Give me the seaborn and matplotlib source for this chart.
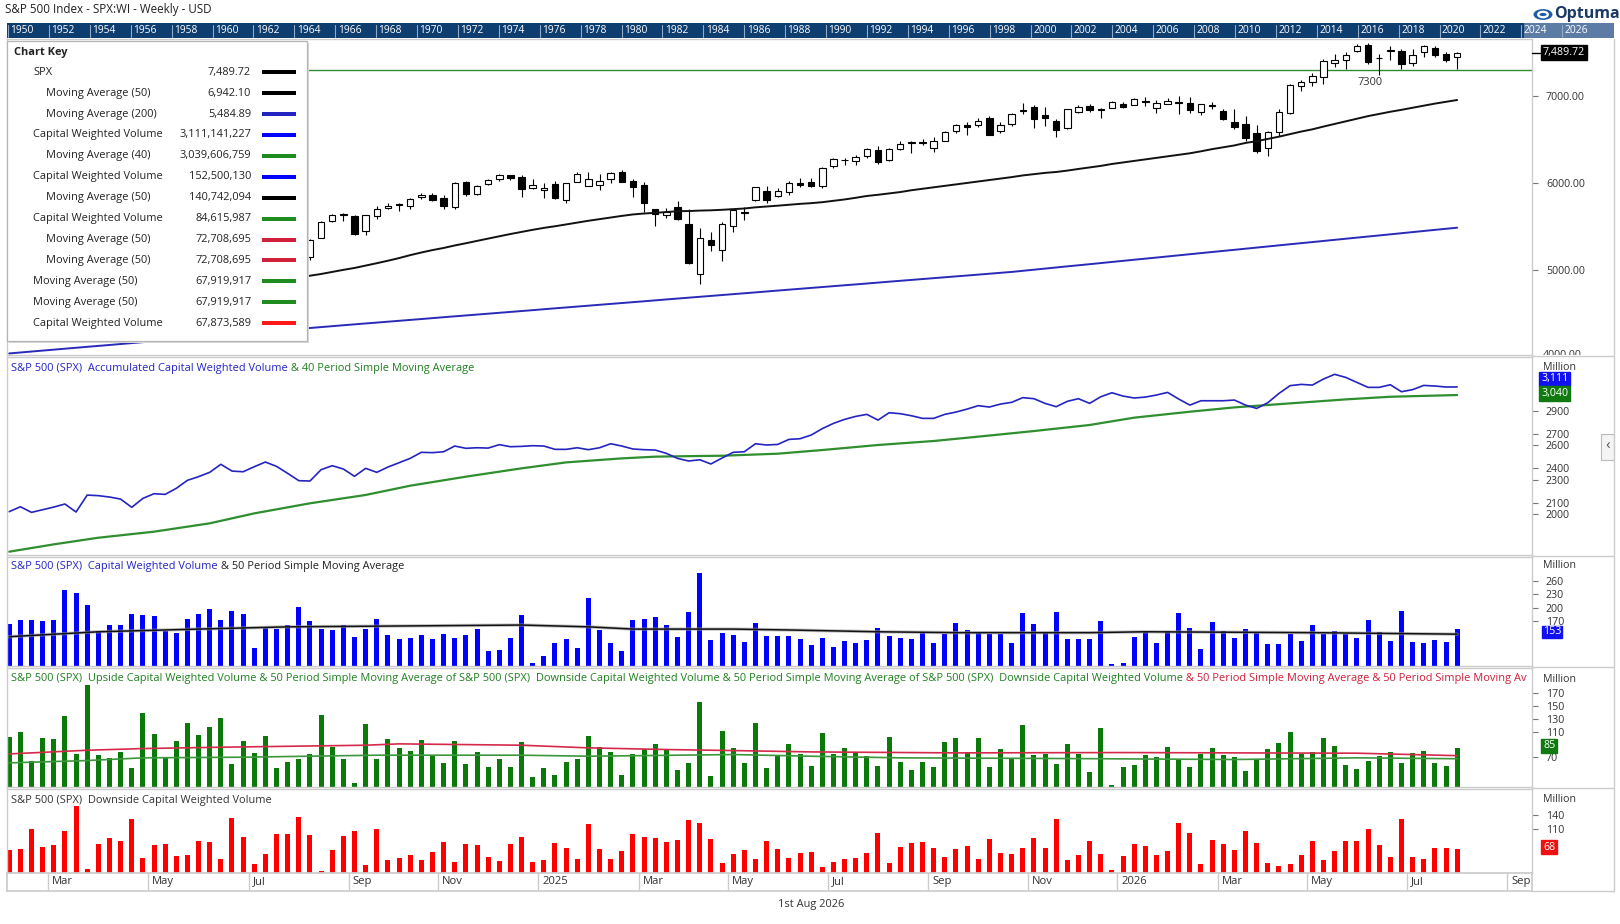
import numpy as np
import pandas as pd
import matplotlib
matplotlib.use("Agg")
import matplotlib.pyplot as plt
import matplotlib.transforms as mtransforms
from matplotlib.patches import Rectangle, Circle
from matplotlib.text import Annotation
import seaborn as sns

# ---------------- DATA ----------------
start_date = "2024-02-02"
n_weeks = 131

price_open = [4892, 4957, 5026, 5003, 5094, 5132, 5111, 5123, 5219, 5257,
              5217, 5149, 4987, 5114, 5142, 5233, 5305, 5315, 5297, 5341,
              5432, 5459, 5471, 5572, 5615, 5545, 5476, 5151, 5364, 5557,
              5636, 5623, 5442, 5615, 5711, 5757, 5737, 5832, 5857, 5823,
              5724, 6007, 5874, 5992, 6040, 6090, 6063, 5942, 5920, 5982,
              5804, 6014, 5969, 5970, 6046, 6121, 6026, 5981, 5705, 5635,
              5718, 5527, 4953, 5343, 5232, 5508, 5655, 5807, 5902, 5854,
              5897, 6004, 6005, 5969, 6193, 6259, 6256, 6304, 6374, 6260,
              6389, 6459, 6457, 6401, 6485, 6590, 6662, 6661, 6740, 6600,
              6676, 6820, 6870, 6780, 6705, 6629, 6813, 6878, 6845, 6860,
              6905, 6897, 6940, 6859, 6908, 6930, 6916, 6813, 6895, 6828,
              6698, 6675, 6571, 6400, 6583, 6801, 7108, 7157, 7221, 7376,
              7414, 7517, 7579, 7430, 7515, 7510, 7379, 7502, 7548, 7483, 7445]
price_high = [4975, 5030, 5048, 5111, 5140, 5189, 5180, 5261, 5264, 5263,
              5220, 5149, 5114, 5139, 5239, 5325, 5341, 5315, 5375, 5447,
              5505, 5524, 5570, 5655, 5670, 5566, 5566, 5358, 5563, 5643,
              5651, 5636, 5636, 5733, 5767, 5767, 5822, 5879, 5878, 5862,
              6012, 6018, 5972, 6044, 6099, 6090, 6085, 6049, 5993, 6021,
              5998, 6128, 6120, 6101, 6127, 6147, 6044, 6009, 5705, 5715,
              5786, 5695, 5481, 5430, 5551, 5700, 5721, 5958, 5968, 5944,
              6016, 6059, 6050, 6187, 6284, 6290, 6315, 6395, 6427, 6395,
              6481, 6478, 6508, 6532, 6600, 6672, 6700, 6750, 6765, 6700,
              6800, 6920, 6890, 6866, 6730, 6850, 6895, 6900, 6855, 6935,
              6925, 6975, 6990, 6954, 6980, 6992, 6990, 6910, 6925, 6850,
              6845, 6770, 6667, 6600, 6850, 7140, 7184, 7265, 7425, 7475,
              7500, 7600, 7610, 7480, 7567, 7540, 7540, 7580, 7575, 7500, 7500]
price_low = [4845, 4918, 4920, 4946, 5056, 5057, 5094, 5117, 5203, 5146,
             5107, 4954, 4987, 5011, 5142, 5211, 5257, 5191, 5234, 5324,
             5432, 5433, 5448, 5546, 5497, 5390, 5302, 5119, 5364, 5555,
             5560, 5402, 5406, 5585, 5703, 5674, 5696, 5815, 5793, 5703,
             5696, 5853, 5856, 5977, 6024, 6032, 5832, 5932, 5829, 5809,
             5773, 6014, 5962, 5923, 6003, 6008, 5837, 5666, 5505, 5597,
             5572, 5069, 4835, 5220, 5102, 5434, 5578, 5786, 5768, 5843,
             5861, 5952, 5952, 5943, 6174, 6202, 6201, 6281, 6212, 6249,
             6373, 6343, 6432, 6360, 6483, 6569, 6550, 6640, 6550, 6570,
             6650, 6790, 6630, 6648, 6522, 6620, 6800, 6810, 6740, 6855,
             6855, 6890, 6880, 6800, 6900, 6790, 6800, 6780, 6850, 6720,
             6620, 6480, 6345, 6314, 6540, 6790, 7050, 7110, 7140, 7330,
             7310, 7500, 7360, 7240, 7414, 7310, 7345, 7450, 7440, 7390, 7310]
price_close = [4959, 5027, 5006, 5089, 5137, 5124, 5117, 5234, 5254, 5204,
               5123, 4967, 5100, 5128, 5223, 5303, 5305, 5278, 5347, 5432,
               5465, 5460, 5567, 5615, 5505, 5459, 5346, 5344, 5554, 5634,
               5648, 5408, 5626, 5703, 5738, 5751, 5815, 5865, 5808, 5729,
               5996, 5871, 5969, 6032, 6090, 6051, 5931, 5971, 5942, 5827,
               5997, 6101, 6040, 6025, 6114, 6013, 5954, 5770, 5639, 5667,
               5581, 5074, 5363, 5283, 5525, 5686, 5660, 5958, 5802, 5912,
               6000, 5977, 5967, 6173, 6279, 6260, 6297, 6389, 6238, 6389,
               6450, 6467, 6460, 6482, 6584, 6664, 6644, 6716, 6553, 6664,
               6791, 6840, 6728, 6740, 6603, 6847, 6870, 6832, 6838, 6930,
               6870, 6965, 6934, 6916, 6943, 6920, 6840, 6905, 6885, 6736,
               6637, 6514, 6368, 6583, 6813, 7126, 7157, 7230, 7402, 7414,
               7471, 7575, 7387, 7436, 7520, 7364, 7471, 7567, 7464, 7414, 7489.72]
# weekly closes before the first visible bar (for the 50-week average)
prior_closes = [4090, 4079, 3970, 4045, 3861, 3916, 3971, 4109, 4105, 4137,
                4133, 4169, 4136, 4124, 4191, 4205, 4282, 4299, 4410, 4348,
                4450, 4399, 4505, 4536, 4582, 4478, 4464, 4370, 4406, 4516,
                4457, 4450, 4320, 4288, 4309, 4327, 4224, 4117, 4358, 4415,
                4514, 4559, 4595, 4604, 4719, 4755, 4770, 4697, 4784, 4840, 4891]
ma200_values = [4041, 4052, 4063, 4073, 4084, 4095, 4106, 4117, 4127, 4138,
                4149, 4160, 4171, 4181, 4192, 4203, 4214, 4225, 4235, 4246,
                4257, 4268, 4279, 4289, 4300, 4311, 4322, 4333, 4343, 4354,
                4365, 4375, 4385, 4396, 4406, 4416, 4426, 4436, 4447, 4457,
                4467, 4477, 4487, 4498, 4508, 4518, 4528, 4538, 4549, 4559,
                4569, 4579, 4589, 4600, 4610, 4620, 4630, 4640, 4651, 4661,
                4671, 4681, 4691, 4702, 4712, 4722, 4732, 4742, 4753, 4763,
                4773, 4783, 4793, 4804, 4814, 4824, 4834, 4844, 4855, 4865,
                4875, 4885, 4895, 4906, 4916, 4926, 4936, 4946, 4957, 4967,
                4977, 4990, 5002, 5015, 5028, 5041, 5053, 5066, 5079, 5091,
                5104, 5117, 5129, 5142, 5155, 5168, 5180, 5193, 5206, 5218,
                5231, 5244, 5256, 5269, 5282, 5295, 5307, 5320, 5333, 5345,
                5358, 5371, 5383, 5396, 5409, 5422, 5434, 5447, 5460, 5472, 5485]
level_line = 7300

accum_values = [2020, 2063, 2014, 2037, 2060, 2087, 2017, 2165, 2160, 2148,
                2130, 2058, 2136, 2177, 2171, 2224, 2294, 2326, 2364, 2434,
                2375, 2369, 2413, 2454, 2416, 2355, 2291, 2288, 2387, 2422,
                2393, 2329, 2399, 2364, 2410, 2448, 2486, 2539, 2536, 2544,
                2594, 2574, 2579, 2576, 2606, 2588, 2591, 2597, 2594, 2565,
                2565, 2579, 2562, 2579, 2614, 2594, 2568, 2562, 2559, 2530,
                2486, 2463, 2474, 2437, 2489, 2539, 2544, 2614, 2603, 2608,
                2652, 2658, 2690, 2746, 2792, 2827, 2853, 2871, 2821, 2885,
                2877, 2859, 2836, 2836, 2871, 2891, 2917, 2947, 2935, 2961,
                2976, 3017, 3008, 2967, 2938, 2985, 3008, 2967, 3025, 3060,
                3031, 3014, 3022, 3040, 3063, 3005, 2952, 2990, 2990, 2990,
                2996, 2952, 2923, 2973, 3054, 3122, 3133, 3127, 3180, 3221,
                3194, 3151, 3107, 3107, 3130, 3069, 3087, 3124, 3119, 3110, 3111]
ma40_week = [0, 4, 8, 13, 18, 22, 27, 32, 36, 41, 46, 50, 55, 58, 62, 64, 69, 73,
             78, 83, 87, 92, 97, 101, 106, 110, 115, 120, 124, 130]
ma40_val = [1670, 1734, 1792, 1845, 1918, 2005, 2093, 2166, 2247, 2326, 2399, 2451,
            2486, 2501, 2507, 2509, 2527, 2559, 2603, 2638, 2676, 2725, 2778, 2842,
            2894, 2932, 2967, 3002, 3025, 3040]

volume = [163, 172, 172, 170, 172, 239, 232, 206, 147, 160,
          161, 186, 183, 181, 148, 143, 174, 186, 197, 172,
          192, 186, 109, 155, 152, 161, 202, 170, 152, 150,
          161, 134, 152, 174, 139, 130, 132, 139, 130, 141,
          132, 139, 152, 103, 105, 132, 183, 77, 92, 121,
          130, 110, 221, 150, 121, 103, 172, 174, 179, 161,
          134, 190, 276, 128, 143, 139, 124, 166, 137, 137,
          137, 130, 116, 132, 112, 125, 122, 128, 155, 137,
          133, 130, 143, 122, 141, 166, 150, 143, 141, 141,
          122, 188, 163, 143, 190, 130, 130, 130, 170, 74,
          76, 135, 145, 122, 148, 188, 154, 108, 168, 148,
          132, 152, 143, 119, 119, 141, 125, 161, 141, 148,
          141, 132, 172, 145, 126, 192, 123, 121, 128, 123, 152.5]
vol_ma_week = [0, 8, 17, 25, 46, 52, 56, 65, 70, 78, 85, 97, 102, 117, 130]
vol_ma_val = [135, 146, 152, 157, 161, 157, 152, 152, 150, 146, 144, 144, 146, 144, 140.7]

upside = [101.8, 109.5, 64, 100, 98.7, 134.4, 75.4, 181.9, 73.4, 69.3,
          78.5, 53.7, 139, 106.4, 70.3, 95.6, 123.5, 104.9, 117.3, 131.3,
          60, 95.6, 77, 103.3, 53.7, 63, 67.7, 75.4, 135.9, 86.3,
          67.7, 30.5, 122, 67.7, 98.7, 84.8, 80.1, 97.2, 72.3, 61.5,
          95.6, 60, 78.5, 55.3, 67.7, 55.3, 94, 39.8, 53.7, 42.9,
          63, 67.7, 103.3, 86.3, 78.5, 42.9, 75.4, 83.2, 91, 81.6,
          50.6, 61.5, 156, 41.3, 111.1, 84.8, 61.5, 123.5, 53.7, 72.9,
          90.9, 75.4, 56.8, 108, 75.4, 84.8, 77, 71.8, 56.8, 101.8,
          63, 50.6, 63, 55.3, 94, 100.3, 78.5, 100.3, 55.3, 83.2,
          67.7, 120.4, 73.9, 75.4, 60, 91, 75.4, 47.5, 115.7, 26.9,
          55.3, 58.4, 73.9, 70.8, 86.3, 66.1, 55.3, 75.4, 84.8, 73.9,
          70.8, 49.1, 67.7, 83.2, 92.5, 109.5, 75.4, 78.5, 100.3, 87.8,
          58.4, 52.2, 64.6, 72.3, 78.5, 61.5, 77, 80.1, 61.5, 56.8, 84.6]
up_ma_red_week = [0, 7, 12, 19, 32, 35, 46, 52, 59, 65, 72, 85, 100, 110, 121, 130]
up_ma_red_val = [75.4, 81.1, 83.7, 85.8, 88.9, 91, 88.9, 84.8, 82.2, 80.6, 78.5, 77, 77.5, 77, 76.5, 72.7]
up_ma_green_week = [0, 7, 12, 21, 33, 46, 52, 65, 72, 80, 95, 110, 121, 130]
up_ma_green_val = [61.5, 65.1, 69.3, 70.3, 73.4, 73.4, 71.8, 74.4, 71.8, 69.3, 68.2, 66.7, 69.3, 67.9]

downside = [65, 67.1, 110, 71.4, 75.7, 105.7, 159.2, 24.3, 77.8, 90.7,
            84.2, 131.4, 47.8, 75.7, 77.8, 52.1, 54.3, 84.2, 82.1, 45.7,
            133.5, 92.8, 35, 56.4, 99.2, 99.2, 135.7, 97.1, 20, 65,
            95, 105.7, 32.8, 110, 43.6, 47.8, 54.3, 43.6, 60.7, 82.1,
            39.3, 77.8, 75.7, 50, 41.4, 77.8, 92.8, 39.3, 43.6, 80,
            69.3, 45.7, 120.7, 67.1, 45.7, 62.8, 99.2, 92.8, 90.7, 82.1,
            86.4, 129.2, 122.8, 88.5, 37.1, 56.4, 65, 45.7, 84.2, 67.1,
            47.8, 58.5, 60.7, 28.6, 39.3, 45.7, 47.8, 58.5, 101.4, 37.1,
            71.4, 80, 82.1, 69.3, 50, 67.1, 73.5, 45.7, 88.5, 58.5,
            56.4, 69.3, 90.7, 69.3, 131.4, 43.6, 54.3, 84.2, 56.4, 22.1,
            52.1, 77.8, 73.5, 54.3, 62.8, 122.8, 101.4, 35, 86.4, 77.8,
            65, 105.7, 80, 37.1, 30.7, 35, 54.3, 84.2, 43.6, 62.8,
            84.2, 84.2, 110, 75.7, 50, 131.4, 50, 45.7, 69.3, 69.3, 67.9]

legend_names = ["SPX", "Moving Average (50)", "Moving Average (200)", "Capital Weighted Volume",
                "Moving Average (40)", "Capital Weighted Volume", "Moving Average (50)",
                "Capital Weighted Volume", "Moving Average (50)", "Moving Average (50)",
                "Moving Average (50)", "Moving Average (50)", "Capital Weighted Volume"]
legend_values = ["7,489.72", "6,942.10", "5,484.89", "3,111,141,227", "3,039,606,759",
                 "152,500,130", "140,742,094", "84,615,987", "72,708,695", "72,708,695",
                 "67,919,917", "67,919,917", "67,873,589"]
legend_indent = [0, 1, 1, 0, 1, 0, 1, 0, 1, 1, 0, 0, 0]
legend_colors = ["#000000", "#000000", "#2323c0", "#0000ff", "#1e8c1e", "#0000ff", "#000000",
                 "#1e8c1e", "#d0203a", "#d0203a", "#1e8c1e", "#1e8c1e", "#ff1a1a"]

strip_years = list(range(1950, 2027, 2))

# ---------------- STYLE ----------------
sns.set_theme(style="white")
plt.rcParams['font.family'] = ['Open Sans', 'DejaVu Sans']

W, H = 1620, 924
fig = plt.figure(figsize=(W / 100, H / 100), dpi=100)
FS = 7.95
TXT = "#333333"
GRID = "#cccccc"

idx = np.arange(n_weeks)
XMIN, XMAX = -0.2, 136.72


def px_ax(left, top, right, bottom):
    return fig.add_axes([left / W, 1 - bottom / H, (right - left) / W, (bottom - top) / H])


def ftxt(x, y, s, **kw):
    kw.setdefault("fontsize", FS)
    kw.setdefault("color", TXT)
    kw.setdefault("va", "center")
    return fig.text(x / W, 1 - y / H, s, **kw)


def style_ax(ax, ylim, ticks=None, fmt=None):
    ax.set_xlim(XMIN, XMAX)
    ax.set_ylim(*ylim)
    ax.set_xticks([])
    ax.set_xlabel("")
    ax.set_ylabel("")
    for sp in ax.spines.values():
        sp.set_color(GRID)
        sp.set_linewidth(1.0)
    ax.yaxis.tick_right()
    if ticks is not None:
        ax.set_yticks(ticks)
        ax.set_yticklabels([fmt(t) for t in ticks])
    else:
        ax.set_yticks([])
    ax.tick_params(axis="y", which="both", direction="out", length=4, width=0.8,
                   colors="#777777", labelcolor=TXT, labelsize=FS - 0.3, pad=6, right=True, left=False)
    ax.set_facecolor("white")


def value_box(x, y, s, fc, pad=0.16):
    ftxt(x, y, s, color="white", ha="left", fontsize=FS - 0.3,
         bbox=dict(boxstyle=f"square,pad={pad}", fc=fc, ec=fc))


def segmented_title(x, y, segments, clip_ax=None):
    prev = None
    for s, c in segments:
        if prev is None:
            t = ftxt(x, y, s, color=c, ha="left", va="center")
        else:
            t = Annotation(s, xy=(1, 0), xycoords=prev, ha="left", va="bottom",
                           fontsize=FS, color=c)
            fig.add_artist(t)
        if clip_ax is not None:
            t.set_clip_box(clip_ax.bbox)
            t.set_clip_on(True)
        prev = t


# ---------------- PRICE PANEL ----------------
ax_p = px_ax(7, 39, 1532, 355)
o = np.array(price_open, float)
h = np.array(price_high, float)
l = np.array(price_low, float)
c = np.array(price_close, float)
ax_p.vlines(idx, l, h, color="black", linewidth=0.8, zorder=2)
body_bottom = np.minimum(o, c)
body_h = np.maximum(np.abs(c - o), 8)
up = c >= o
ax_p.bar(idx[up], body_h[up], bottom=body_bottom[up], width=0.58, color="white",
         edgecolor="black", linewidth=0.8, zorder=3)
ax_p.bar(idx[~up], body_h[~up], bottom=body_bottom[~up], width=0.58, color="black",
         edgecolor="black", linewidth=0.8, zorder=3)

all_close = pd.Series(prior_closes + price_close)
ma50 = all_close.rolling(50).mean().iloc[len(prior_closes):].to_numpy()
sns.lineplot(x=idx, y=ma50, ax=ax_p, color="#111111", linewidth=1.4, zorder=4)
sns.lineplot(x=idx, y=ma200_values, ax=ax_p, color="#2a2ab8", linewidth=1.4, zorder=4)
ax_p.axhline(level_line, color="#2e8b2e", linewidth=1.0, zorder=1)
ax_p.text(122.2, 7154, "7300", fontsize=FS, color=TXT, ha="center", va="center")
style_ax(ax_p, (4023, 7652), [5000, 6000, 7000], lambda t: f"{t:.2f}")

# ---------------- ACCUMULATED PANEL ----------------
ax_a = px_ax(7, 356.5, 1532, 555)
sns.lineplot(x=ma40_week, y=ma40_val, ax=ax_a, color="#2f8f2f", linewidth=1.6)
sns.lineplot(x=idx, y=accum_values, ax=ax_a, color="#2424c0", linewidth=1.2)
style_ax(ax_a, (1641, 3377), [2000, 2100, 2300, 2400, 2600, 2700, 2900], lambda t: f"{t}")

# ---------------- VOLUME PANEL ----------------
ax_v = px_ax(7, 557, 1532, 665.5)
sns.barplot(x=idx, y=volume, native_scale=True, color="#0000ff", saturation=1,
            width=0.45, linewidth=0, errorbar=None, ax=ax_v)
sns.lineplot(x=vol_ma_week, y=vol_ma_val, ax=ax_v, color="#999999", linewidth=2.4, alpha=0.6)
sns.lineplot(x=vol_ma_week, y=vol_ma_val, ax=ax_v, color="#111111", linewidth=1.1)
style_ax(ax_v, (70.8, 312.7), [170, 200, 230, 260], lambda t: f"{t}")

# ---------------- UPSIDE PANEL ----------------
ax_u = px_ax(7, 668, 1532, 786.5)
sns.barplot(x=idx, y=upside, native_scale=True, color="#0b7a0b", saturation=1,
            width=0.45, linewidth=0, errorbar=None, ax=ax_u)
sns.lineplot(x=up_ma_red_week, y=up_ma_red_val, ax=ax_u, color="#d42a4a", linewidth=1.2)
sns.lineplot(x=up_ma_green_week, y=up_ma_green_val, ax=ax_u, color="#3c963c", linewidth=1.2)
style_ax(ax_u, (24.8, 208.8), [70, 110, 130, 150, 170], lambda t: f"{t}")

# ---------------- DOWNSIDE PANEL ----------------
ax_d = px_ax(7, 789, 1532, 872.5)
sns.barplot(x=idx, y=downside, native_scale=True, color="#ff0000", saturation=1,
            width=0.45, linewidth=0, errorbar=None, ax=ax_d)
style_ax(ax_d, (17.2, 194.6), [110, 140], lambda t: f"{t}")

# ---------------- DATE AXIS ----------------
ax_x = px_ax(7, 872.5, 1532, 891)
ax_x.set_xlim(XMIN, XMAX)
ax_x.set_ylim(0, 1)
ax_x.set_xticks([])
ax_x.set_yticks([])
for sp in ax_x.spines.values():
    sp.set_color(GRID)
d0 = pd.Timestamp(start_date)
months = pd.date_range("2024-03-01", "2026-09-01", freq="2MS")
for m in months:
    pos = np.ceil((m - d0).days / 7) - 0.5
    lab = str(m.year) if m.month == 1 else m.strftime("%b")
    ax_x.vlines(pos, 0, 1, color=GRID, linewidth=1.0)
    ax_x.text(pos + 0.35, 0.5, lab, fontsize=FS + 0.2, color=TXT, ha="left", va="center")
ftxt(811, 904, "1st Aug 2026", ha="center")

# ---------------- RIGHT AXIS EXTRAS ----------------
for y in (368, 566, 679, 800):
    ftxt(1543, y, "Million", ha="left", fontsize=FS - 0.3)
t4000 = ftxt(1543, 356, "4000.00", ha="left", fontsize=FS - 0.3)
t4000.set_clip_box(mtransforms.Bbox.from_extents(1532, H - 355, 1614, H - 39))
t4000.set_clip_on(True)
fig.add_artist(plt.Line2D([1532 / W, 1540 / W], [1 - 52.7 / H, 1 - 52.7 / H],
                          color="black", linewidth=1.0))
value_box(1543, 52.7, "7,489.72", "black")
value_box(1541, 379, "3,111", "#1010f0")
value_box(1541, 393.6, "3,040", "#107a10")
value_box(1543, 632, "153", "#1010f0", pad=0.08)
value_box(1543, 746, "85", "#107a10")
value_box(1543, 847.2, "68", "#ee1111")

# panel separators across the right axis area
for y in (355.5, 556, 666.5, 787.5, 891):
    fig.add_artist(plt.Line2D([1532 / W, 1614 / W], [1 - y / H, 1 - y / H], color=GRID, linewidth=1.0))
fig.add_artist(plt.Line2D([1614 / W, 1614 / W], [1 - 39 / H, 1 - 891 / H], color=GRID, linewidth=1.0))

# scroll tab
fig.add_artist(Rectangle((1601 / W, 1 - 460 / H), 13 / W, 26 / H, transform=fig.transFigure,
                         fc="#f4f4f4", ec="#bbbbbb", lw=0.8))
ftxt(1607.5, 446, "‹", ha="center", fontsize=11, color="#555555")

# ---------------- PANEL TITLES ----------------
BLUE_T = "#2323c8"
GREEN_T = "#1f7f1f"
RED_T = "#cc1f3a"
segmented_title(11.4, 369, [("S&P 500 (SPX)  Accumulated Capital Weighted Volume", BLUE_T),
                            (" & 40 Period Simple Moving Average", GREEN_T)])
segmented_title(11.4, 567, [("S&P 500 (SPX)  Capital Weighted Volume", BLUE_T),
                            (" & 50 Period Simple Moving Average", "#222222")])
segmented_title(11.4, 679, [("S&P 500 (SPX)  Upside Capital Weighted Volume & 50 Period Simple Moving "
                             "Average of S&P 500 (SPX)  Downside Capital Weighted Volume & 50 Period "
                             "Simple Moving Average of S&P 500 (SPX)  Downside Capital Weighted Volume",
                             GREEN_T),
                            (" & 50 Period Simple Moving Average & 50 Period Simple Moving Av", RED_T)],
                clip_ax=ax_u)
segmented_title(11.4, 800, [("S&P 500 (SPX)  Downside Capital Weighted Volume", "#333333")])

# ---------------- TOP STRIP ----------------
ftxt(5, 10, "S&P 500 Index - SPX:WI - Weekly - USD", ha="left", fontsize=FS + 0.4, color="#222222")
fig.add_artist(Rectangle((7 / W, 1 - 38 / H), 1607 / W, 15 / H, transform=fig.transFigure,
                         fc="#0e3d70", ec="none"))
fig.add_artist(Rectangle((1524 / W, 1 - 38 / H), 90 / W, 15 / H, transform=fig.transFigure,
                         fc="#6a88b0", ec="none", alpha=0.85))
for k, yr in enumerate(strip_years):
    xs = 8 + k * 40.9
    fig.add_artist(plt.Line2D([xs / W, xs / W], [1 - 25 / H, 1 - 37 / H], color="#8fa9c8", linewidth=0.8))
    ftxt(xs + 2.5, 30.8, str(yr), ha="left", fontsize=FS - 0.6, color="white")

# Optuma logo
fig.add_artist(Circle((1543 / W, 1 - 14.5 / H), 9.5 / W, transform=fig.transFigure,
                      fc="#1f5ca8", ec="none"))
fig.add_artist(Circle((1543 / W, 1 - 14.5 / H), 4.8 / W, transform=fig.transFigure,
                      fc="none", ec="white", lw=1.6))
ftxt(1554, 14.5, "Optuma", ha="left", fontsize=11.5, color="#1b3a66", fontweight="bold")

# ---------------- CHART KEY ----------------
fig.add_artist(Rectangle((9 / W, 1 - 343 / H), 300 / W, 300 / H, transform=fig.transFigure,
                         fc="#d9d9d9", ec="none", zorder=5))
fig.add_artist(Rectangle((7 / W, 1 - 341 / H), 300 / W, 300 / H, transform=fig.transFigure,
                         fc="white", ec="#b5b5b5", lw=0.9, zorder=6))
t = ftxt(14.5, 52.7, "Chart Key", ha="left", fontweight="bold", color="#222222")
t.set_zorder(7)
for k, (name, val, ind, col) in enumerate(zip(legend_names, legend_values, legend_indent, legend_colors)):
    y = 72.3 + k * 20.9
    t1 = ftxt(45.5 if ind else 33, y, name, ha="left", color="#222222")
    t2 = ftxt(251, y, val, ha="right", color="#222222")
    t1.set_zorder(7)
    t2.set_zorder(7)
    fig.add_artist(Rectangle((262 / W, 1 - (y + 2) / H), 34 / W, 4 / H, transform=fig.transFigure,
                             fc=col, ec="none", zorder=7))

fig.savefig("out.png", dpi=100)
